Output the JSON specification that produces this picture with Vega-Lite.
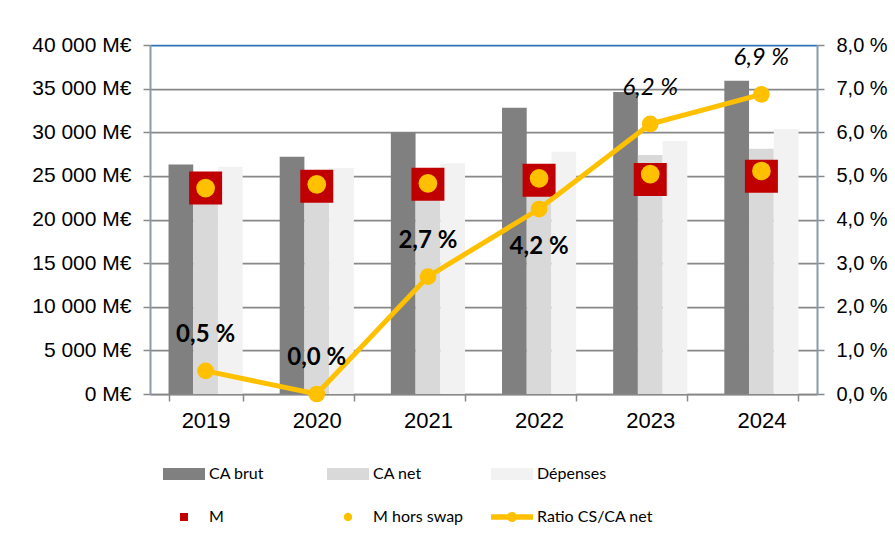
{
  "$schema": "https://vega.github.io/schema/vega-lite/v6.json",
  "width": 667,
  "height": 349,
  "autosize": {"type": "none"},
  "padding": {"left": 150, "top": 45, "right": 78, "bottom": 147},
  "background": "white",
  "data": {
    "values": [
      {"year": 2019, "CA brut": 26300, "CA net": 23500, "Dépenses": 26050, "m": 23600, "m_hors_swap": 23600, "ratio": 0.53},
      {"year": 2020, "CA brut": 27200, "CA net": 23800, "Dépenses": 25900, "m": 23800, "m_hors_swap": 24030, "ratio": 0.0},
      {"year": 2021, "CA brut": 30000, "CA net": 24800, "Dépenses": 26450, "m": 24030, "m_hors_swap": 24150, "ratio": 2.69},
      {"year": 2022, "CA brut": 32800, "CA net": 26000, "Dépenses": 27770, "m": 24490, "m_hors_swap": 24720, "ratio": 4.24},
      {"year": 2023, "CA brut": 34600, "CA net": 27400, "Dépenses": 29000, "m": 24590, "m_hors_swap": 25210, "ratio": 6.19},
      {"year": 2024, "CA brut": 35900, "CA net": 28100, "Dépenses": 30370, "m": 24950, "m_hors_swap": 25560, "ratio": 6.87}
    ]
  },
  "encoding": {
    "x": {
      "field": "year",
      "type": "nominal",
      "scale": {"paddingInner": 0.333, "paddingOuter": 0.1667},
      "axis": {
        "title": null,
        "labelAngle": 0,
        "labelFont": "Liberation Sans",
        "labelFontSize": 22,
        "labelColor": "black",
        "labelPadding": 9,
        "tickBand": "extent",
        "tickSize": 7,
        "tickColor": "#888888",
        "tickWidth": 1.5,
        "domainColor": "#888888",
        "domainWidth": 1.5,
        "grid": false
      }
    }
  },
  "layer": [
    {
      "layer": [
        {
          "transform": [{"fold": ["CA brut", "CA net", "Dépenses"], "as": ["series", "value"]}],
          "mark": {"type": "bar"},
          "encoding": {
            "xOffset": {"field": "series", "type": "nominal", "sort": ["CA brut", "CA net", "Dépenses"], "scale": {"paddingInner": 0, "paddingOuter": 0}},
            "y": {
              "field": "value",
              "type": "quantitative",
              "scale": {"domain": [0, 40000], "nice": false},
              "axis": {
                "title": null,
                "values": [0, 5000, 10000, 15000, 20000, 25000, 30000, 35000, 40000],
                "labelExpr": "replace(format(datum.value, ','), ',', ' ') + ' M€'",
                "labelFont": "Liberation Sans",
                "labelFontSize": 21,
                "labelColor": "black",
                "labelPadding": 12,
                "tickSize": 7,
                "tickColor": "#888888",
                "tickWidth": 1.5,
                "domainColor": "#8C9BAA",
                "domainWidth": 2,
                "grid": true,
                "gridColor": {"condition": {"test": "datum.value === 40000", "value": "#2E75B6"}, "value": "#888888"},
                "gridWidth": 1.75
              }
            },
            "color": {
              "field": "series",
              "type": "nominal",
              "scale": {
                "domain": ["CA brut", "CA net", "Dépenses", "M", "M hors swap", "Ratio CS/CA net"],
                "range": ["#808080", "#D9D9D9", "#F2F2F2", "#C00000", "#FFC000", "#FFC000"]
              },
              "legend": {
                "title": null,
                "orient": "none",
                "legendX": 13,
                "legendY": 408,
                "columns": 3,
                "direction": "horizontal",
                "gridAlign": "all",
                "columnPadding": 2,
                "rowPadding": 14,
                "padding": 0,
                "symbolSize": 1764,
                "symbolOffset": 0,
                "symbolStrokeWidth": 0,
                "labelOffset": 4,
                "labelFont": "Lato",
                "labelFontSize": 16,
                "labelColor": "black",
                "labelLimit": 300,
                "encode": {
                  "symbols": {
                    "update": {
                      "shape": {"signal": "datum.value === 'M' ? 'M-1,0H1M-0.19,-0.19H0.19V0.19H-0.19Z' : datum.value === 'M hors swap' ? 'M-1,0H1M-0.2,0A0.2,0.2,0,1,1,0.2,0A0.2,0.2,0,1,1,-0.2,0Z' : datum.value === 'Ratio CS/CA net' ? 'M-1,-0.13H1V0.13H-1ZM-0.24,0A0.24,0.24,0,1,1,0.24,0A0.24,0.24,0,1,1,-0.24,0Z' : 'M-1,-0.286H1V0.286H-1Z'"},
                      "size": {"value": 1764},
                      "fill": {"scale": "color", "field": "value"},
                      "stroke": {"value": "transparent"},
                      "strokeWidth": {"value": 0},
                      "opacity": {"value": 1},
                      "fillOpacity": {"value": 1}
                    }
                  }
                }
              }
            }
          }
        },
        {
          "mark": {"type": "square", "size": 1089, "filled": true, "opacity": 1},
          "encoding": {
            "y": {"field": "m", "type": "quantitative"},
            "color": {"datum": "M"}
          }
        },
        {
          "mark": {"type": "circle", "size": 350, "opacity": 1},
          "encoding": {
            "y": {"field": "m_hors_swap", "type": "quantitative"},
            "color": {"datum": "M hors swap"}
          }
        }
      ]
    },
    {
      "layer": [
        {
          "mark": {"type": "line", "strokeWidth": 5, "strokeCap": "round", "point": {"size": 280, "filled": true, "opacity": 1}},
          "encoding": {
            "y": {
              "field": "ratio",
              "type": "quantitative",
              "scale": {"domain": [0, 8], "nice": false},
              "axis": {
                "orient": "right",
                "title": null,
                "values": [0, 1, 2, 3, 4, 5, 6, 7, 8],
                "labelExpr": "replace(format(datum.value, '.1f'), '.', ',') + ' %'",
                "labelFont": "Liberation Sans",
                "labelFontSize": 20,
                "labelColor": "black",
                "labelPadding": 12,
                "tickSize": 7,
                "tickColor": "#888888",
                "tickWidth": 1.5,
                "domainColor": "#8C9BAA",
                "domainWidth": 2,
                "grid": false
              }
            },
            "color": {"datum": "Ratio CS/CA net"}
          }
        },
        {
          "transform": [
            {"filter": "datum.year <= 2021"},
            {"calculate": "replace(format(datum.ratio, '.1f'), '.', ',') + ' %'", "as": "label"}
          ],
          "mark": {"type": "text", "font": "Lato", "fontSize": 24, "fontWeight": "bold", "dy": -36, "color": "black"},
          "encoding": {
            "y": {"field": "ratio", "type": "quantitative"},
            "text": {"field": "label"}
          }
        },
        {
          "transform": [
            {"filter": "datum.year === 2022"},
            {"calculate": "replace(format(datum.ratio, '.1f'), '.', ',') + ' %'", "as": "label"}
          ],
          "mark": {"type": "text", "font": "Lato", "fontSize": 24, "fontWeight": "bold", "dy": 38, "color": "black"},
          "encoding": {
            "y": {"field": "ratio", "type": "quantitative"},
            "text": {"field": "label"}
          }
        },
        {
          "transform": [
            {"filter": "datum.year >= 2023"},
            {"calculate": "replace(format(datum.ratio, '.1f'), '.', ',') + ' %'", "as": "label"}
          ],
          "mark": {"type": "text", "font": "Lato", "fontSize": 24, "fontStyle": "italic", "dy": -36, "color": "black"},
          "encoding": {
            "y": {"field": "ratio", "type": "quantitative"},
            "text": {"field": "label"}
          }
        }
      ]
    }
  ],
  "resolve": {"scale": {"y": "independent"}},
  "config": {
    "view": {"stroke": null},
    "font": "Liberation Sans"
  }
}
